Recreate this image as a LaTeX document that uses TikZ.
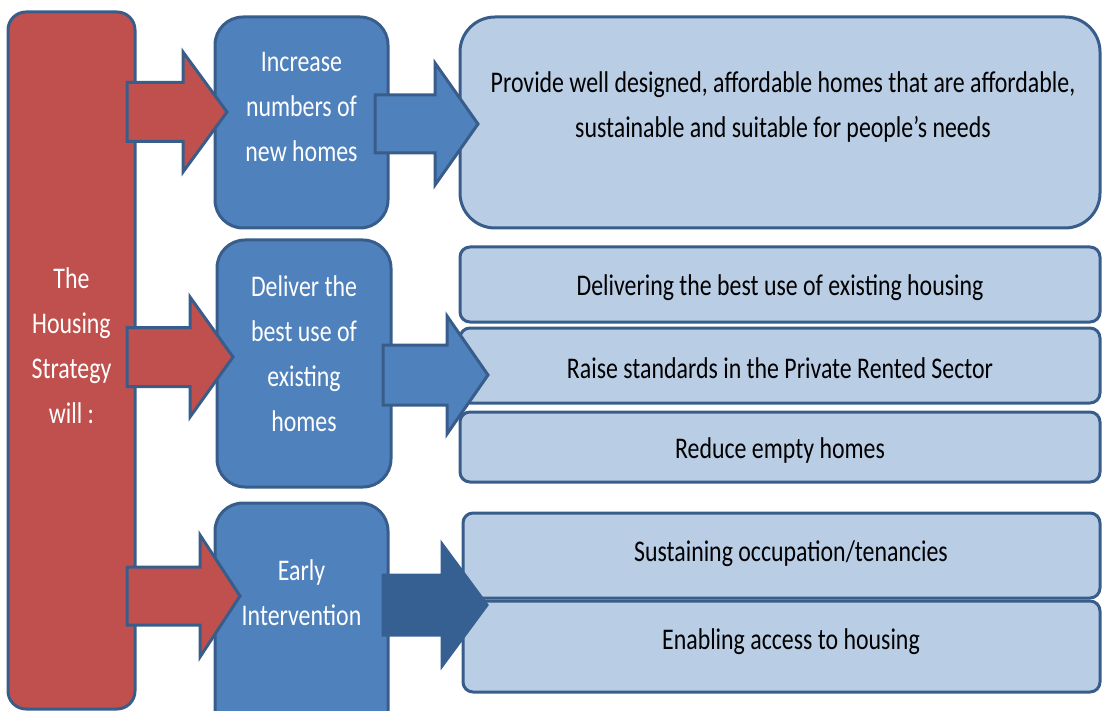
\documentclass[tikz,border=0pt]{standalone}
\usepackage{fontspec}
\setmainfont{Carlito}[FakeStretch=0.795]
\usetikzlibrary{calc}
\definecolor{stratred}{HTML}{C0504D}
\definecolor{midblue}{HTML}{4F81BD}
\definecolor{edgeblue}{HTML}{385D8A}
\definecolor{paleblue}{HTML}{B9CDE5}
\definecolor{darkblue}{HTML}{376092}
\begin{document}
\begin{tikzpicture}[x=1pt,y=-1pt]
		\tikzstyle{main}=[rectangle, line width=3pt, draw=edgeblue, inner sep=0pt]
		\tikzstyle{words}=[align=center, font=\fontsize{30}{45}\selectfont]
		\tikzstyle{aim}=[main, fill=midblue, rounded corners=28pt, minimum width=173pt]
		\tikzstyle{goal}=[main, fill=paleblue, rounded corners=10pt, minimum width=640pt]
		\tikzstyle{connect}=[line width=3pt, draw=edgeblue, line join=miter]
		\tikzstyle{fat}=[to path={let \p1=(\tikztostart), \p2=(\tikztotarget) in
			(\x1,\y1+\shaft) -- (\x2-\headlen,\y1+\shaft) -- (\x2-\headlen,\y1+\headw) -- (\x2,\y2)
			-- (\x2-\headlen,\y1-\headw) -- (\x2-\headlen,\y1-\shaft) -- (\x1,\y1-\shaft) -- cycle}]
		\useasboundingbox (0,0) rectangle (1102,711);
		\node[main, fill=stratred, rounded corners=18pt, minimum width=127pt, minimum height=697pt] (strategy) at (71.5,360.5)
			[label={[words, text=white, yshift=15pt]center:The\\Housing\\Strategy\\will :}] {};
		\node[aim, minimum height=211pt] (increase) at (301.5,122.5)
			[label={[words, text=white, yshift=15.5pt]center:Increase\\numbers of\\new homes}] {};
		\node[aim, minimum width=174pt, minimum height=247pt] (deliver) at (304,363.5)
			[label={[words, text=white, yshift=9.5pt]center:Deliver the\\best use of\\existing\\homes}] {};
		\node[aim, minimum height=237pt] (early) at (301.5,621.5)
			[label={[words, text=white, yshift=28.5pt]center:Early\\Intervention}] {};
		\node[goal, rounded corners=35pt, minimum height=211pt] (provide) at (780,122.5)
			[label={[words, xshift=3pt, yshift=15pt]center:Provide well designed, affordable homes that are affordable,\\sustainable and suitable for people’s needs}] {};
		\node[goal, minimum height=75pt] (best) at (780,284.5)
			[label={[words, yshift=-3pt]center:Delivering the best use of existing housing}] {};
		\node[goal, minimum height=75pt] (raise) at (780,365.5)
			[label={[words, yshift=-3pt]center:Raise standards in the Private Rented Sector}] {};
		\node[goal, minimum height=70pt] (reduce) at (780,447)
			[label={[words, yshift=-3.5pt]center:Reduce empty homes}] {};
		\node[goal, minimum width=637pt, minimum height=85pt] (sustain) at (781.5,555.5)
			[label={[words, xshift=9.5pt, yshift=1.5pt]center:Sustaining occupation/tenancies}] {};
		\node[goal, minimum width=637pt, minimum height=91pt] (enable) at (781.5,646.5)
			[label={[words, xshift=9.5pt, yshift=5pt]center:Enabling access to housing}] {};
		\coordinate (r1) at (127,112); \coordinate (t1) at (227,112);
		\coordinate (r2) at (127,357); \coordinate (t2) at (233,357);
		\coordinate (r3) at (127,596); \coordinate (t3) at (240,596);
		\coordinate (b1) at (375,124); \coordinate (u1) at (478,124);
		\coordinate (b2) at (383,375); \coordinate (u2) at (488,375);
		\coordinate (b3) at (383,605); \coordinate (u3) at (487,605);
		\def\shaft{29.5pt}\def\headw{60pt}\def\headlen{44pt}
		\path[connect, fill=stratred] (r1) to[fat] (t1);
		\def\headlen{43pt}
		\path[connect, fill=stratred] (r2) to[fat] (t2);
		\def\shaft{29pt}\def\headw{61pt}\def\headlen{40pt}
		\path[connect, fill=stratred] (r3) to[fat] (t3);
		\def\headlen{43pt}
		\path[connect, fill=midblue] (b1) to[fat] (u1);
		\def\shaft{30pt}\def\headw{59pt}\def\headlen{41pt}
		\path[connect, fill=midblue] (b2) to[fat] (u2);
		\def\headw{61pt}\def\headlen{45pt}
		\path[connect, draw=darkblue, fill=darkblue] (b3) to[fat] (u3);
\end{tikzpicture}
\end{document}
